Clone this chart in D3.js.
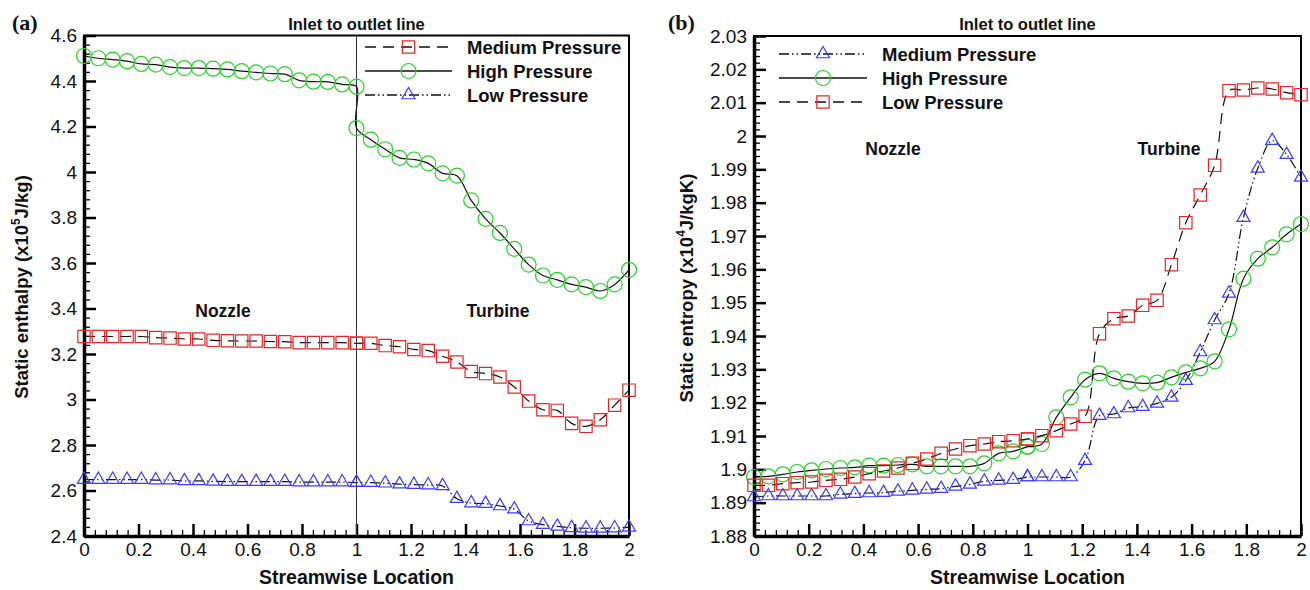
<!DOCTYPE html>
<html>
<head>
<meta charset="utf-8">
<script src="https://cdn.jsdelivr.net/npm/d3@7"></script>
<style>
  body { margin: 0; background: #fff; }
  text { font-family: "Liberation Sans", Arial, sans-serif; fill: #111; }
</style>
</head>
<body>
<svg id="chart" width="1310" height="590"></svg>
<script>
// streamwise sample locations (nozzle 0..1, turbine 1..2)
var locX = [0, 0.0526, 0.1053, 0.1579, 0.2105, 0.2632, 0.3158, 0.3684, 0.4211, 0.4737,
            0.5263, 0.5789, 0.6316, 0.6842, 0.7368, 0.7895, 0.8421, 0.8947, 0.9474, 1,
            1, 1.0526, 1.1053, 1.1579, 1.2105, 1.2632, 1.3158, 1.3684, 1.4211, 1.4737,
            1.5263, 1.5789, 1.6316, 1.6842, 1.7368, 1.7895, 1.8421, 1.8947, 1.9474, 2];

// (a) static enthalpy, x10^5 J/kg
var enthMedium = [3.277, 3.277, 3.277, 3.277, 3.277, 3.272, 3.270, 3.266, 3.266, 3.260,
                  3.258, 3.257, 3.257, 3.255, 3.254, 3.250, 3.250, 3.250, 3.250, 3.247,
                  3.247, 3.247, 3.237, 3.232, 3.220, 3.215, 3.190, 3.165, 3.123, 3.114,
                  3.099, 3.055, 2.993, 2.955, 2.952, 2.895, 2.882, 2.911, 2.975, 3.041];
var enthHigh = [4.510, 4.500, 4.494, 4.487, 4.475, 4.472, 4.461, 4.457, 4.457, 4.454,
                4.451, 4.443, 4.438, 4.433, 4.430, 4.403, 4.397, 4.396, 4.385, 4.375,
                4.193, 4.142, 4.100, 4.062, 4.055, 4.038, 3.994, 3.984, 3.875, 3.794,
                3.732, 3.662, 3.593, 3.545, 3.526, 3.506, 3.494, 3.477, 3.506, 3.570];
var enthLow = [2.648, 2.648, 2.648, 2.648, 2.648, 2.646, 2.646, 2.642, 2.642, 2.640,
               2.639, 2.639, 2.639, 2.639, 2.639, 2.637, 2.637, 2.637, 2.637, 2.635,
               2.635, 2.635, 2.632, 2.628, 2.626, 2.624, 2.620, 2.564, 2.545, 2.542,
               2.532, 2.518, 2.466, 2.450, 2.442, 2.436, 2.434, 2.434, 2.435, 2.438];

// (b) static entropy, x10^4 J/kgK
var entrMedium = [1.8917, 1.8920, 1.8920, 1.8920, 1.8920, 1.8920, 1.8925, 1.8927, 1.8929, 1.8930,
                  1.8934, 1.8937, 1.8940, 1.8942, 1.8949, 1.8955, 1.8964, 1.8967, 1.8969, 1.8977,
                  1.8977, 1.8977, 1.8977, 1.8977, 1.9026, 1.9161, 1.9166, 1.9184, 1.9188, 1.9198,
                  1.9216, 1.9266, 1.9352, 1.9448, 1.9528, 1.9755, 1.9903, 1.9986, 1.9944, 1.9876];
var entrHigh = [1.8977, 1.8979, 1.8985, 1.8992, 1.8997, 1.9001, 1.9004, 1.9006, 1.9011, 1.9011,
                1.9013, 1.9015, 1.9009, 1.9009, 1.9009, 1.9009, 1.9018, 1.9048, 1.9054, 1.9068,
                1.9068, 1.9076, 1.9156, 1.9216, 1.9269, 1.9288, 1.9273, 1.9263, 1.9258, 1.9260,
                1.9276, 1.9291, 1.9303, 1.9324, 1.9420, 1.9572, 1.9632, 1.9666, 1.9705, 1.9736];
var entrLow = [1.8952, 1.8952, 1.8957, 1.8960, 1.8962, 1.8967, 1.8970, 1.8977, 1.8987, 1.8995,
               1.9004, 1.9018, 1.9031, 1.9048, 1.9061, 1.9071, 1.9076, 1.9083, 1.9086, 1.9091,
               1.9091, 1.9101, 1.9116, 1.9136, 1.9159, 1.9407, 1.9452, 1.9460, 1.9492, 1.9507,
               1.9614, 1.9740, 1.9823, 1.9912, 2.0136, 2.0138, 2.0144, 2.0141, 2.0130, 2.0124];

var xTicks = [0, 0.2, 0.4, 0.6, 0.8, 1, 1.2, 1.4, 1.6, 1.8, 2];
var enthTicks = [2.4, 2.6, 2.8, 3, 3.2, 3.4, 3.6, 3.8, 4, 4.2, 4.4, 4.6];
var entrTicks = [1.88, 1.89, 1.9, 1.91, 1.92, 1.93, 1.94, 1.95, 1.96, 1.97, 1.98, 1.99, 2, 2.01, 2.02, 2.03];

var RED = "#e32626", GREEN = "#2bd12b", BLUE = "#3b3bff";
var styles = {
  square:   { color: RED,   dash: "11,7" },
  circle:   { color: GREEN, dash: null },
  triangle: { color: BLUE,  dash: "10,3,1.5,3,1.5,3" }
};

var svg = d3.select("#chart");

function marker(g, kind, cx, cy) {
  var st = styles[kind];
  if (kind === "circle") {
    g.append("circle").attr("cx", cx).attr("cy", cy).attr("r", 7.5)
      .attr("fill", "none").attr("stroke", st.color).attr("stroke-width", 1.2);
  } else {
    var sym = kind === "square" ? d3.symbol(d3.symbolSquare, 152) : d3.symbol(d3.symbolTriangle, 74);
    g.append("path").attr("d", sym).attr("transform", "translate(" + cx + "," + cy + ")")
      .attr("fill", "none").attr("stroke", st.color).attr("stroke-width", 1.2);
  }
}

function drawPanel(p) {
  var x = d3.scaleLinear().domain([0, 2]).range([p.left, p.right]);
  var y = d3.scaleLinear().domain(p.ydom).range([p.bottom, p.top]);
  var g = svg.append("g");

  // frame
  g.append("rect").attr("x", p.left).attr("y", p.top)
    .attr("width", p.right - p.left).attr("height", p.bottom - p.top)
    .attr("fill", "none").attr("stroke", "#000").attr("stroke-width", 2);

  // minor ticks
  g.append("g").attr("transform", "translate(0," + p.bottom + ")")
    .call(d3.axisBottom(x).tickValues(d3.range(0, 2.001, 0.04)).tickSize(-6).tickFormat(""))
    .call(function(a) { a.select(".domain").remove(); a.selectAll("line").attr("stroke-width", 1.3); });
  g.append("g").attr("transform", "translate(" + p.left + ",0)")
    .call(d3.axisLeft(y).tickValues(d3.range(p.ydom[0], p.ydom[1] + p.minor / 2, p.minor)).tickSize(-6).tickFormat(""))
    .call(function(a) { a.select(".domain").remove(); a.selectAll("line").attr("stroke-width", 1.3); });

  // major ticks
  var fmt = d3.format("~g");
  g.append("g").attr("transform", "translate(0," + p.bottom + ")")
    .call(d3.axisBottom(x).tickValues(xTicks).tickSize(-12).tickSizeOuter(0).tickPadding(7).tickFormat(fmt))
    .call(function(a) {
      a.select(".domain").attr("stroke-width", 3.5);
      a.selectAll("line").attr("stroke-width", 2.5);
      a.selectAll("text").attr("font-size", 19).attr("fill", "#111");
    });
  g.append("g").attr("transform", "translate(" + p.left + ",0)")
    .call(d3.axisLeft(y).tickValues(p.ticks).tickSize(-12).tickSizeOuter(0).tickPadding(7).tickFormat(fmt))
    .call(function(a) {
      a.select(".domain").attr("stroke-width", 3.5);
      a.selectAll("line").attr("stroke-width", 2.5);
      a.selectAll("text").attr("font-size", 19).attr("fill", "#111");
    });

  if (p.divider) {
    g.append("line").attr("x1", x(1)).attr("x2", x(1)).attr("y1", p.top).attr("y2", p.bottom)
      .attr("stroke", "#333").attr("stroke-width", 1);
  }

  // series
  var line = d3.line().x(function(d) { return x(d[0]); }).y(function(d) { return y(d[1]); })
    .curve(d3.curveCatmullRom.alpha(0.5));
  p.series.forEach(function(s) {
    var pts = locX.map(function(v, i) { return [v, s.values[i]]; });
    var st = styles[s.kind];
    g.append("path").attr("d", line(pts)).attr("fill", "none")
      .attr("stroke", "#111").attr("stroke-width", 1.2)
      .attr("stroke-dasharray", st.dash);
    var mg = g.append("g");
    pts.forEach(function(d) { marker(mg, s.kind, x(d[0]), y(d[1])); });
  });

  // legend
  p.series.forEach(function(s, i) {
    var ly = p.legY[i], st = styles[s.kind];
    g.append("line").attr("x1", p.legX[0]).attr("x2", p.legX[1]).attr("y1", ly).attr("y2", ly)
      .attr("stroke", "#111").attr("stroke-width", 1.3).attr("stroke-dasharray", st.dash);
    marker(g, s.kind, (p.legX[0] + p.legX[1]) / 2, ly);
    g.append("text").attr("x", p.legX[2]).attr("y", ly + 7).attr("font-size", 18.5)
      .attr("font-weight", "bold").text(s.name);
  });

  // labels
  var cx = (p.left + p.right) / 2;
  g.append("text").attr("x", cx).attr("y", 30).attr("text-anchor", "middle")
    .attr("font-size", 16.5).attr("font-weight", "bold").text("Inlet to outlet line");
  g.append("text").attr("x", cx).attr("y", 584).attr("text-anchor", "middle")
    .attr("font-size", 19.5).attr("font-weight", "bold").text("Streamwise Location");
  g.append("text").attr("x", p.panelX).attr("y", 30)
    .style("font-family", "'Liberation Serif', 'Times New Roman', serif")
    .attr("font-size", 22).attr("font-weight", "bold").text(p.panel);
  p.regions.forEach(function(r) {
    g.append("text").attr("x", r[1]).attr("y", p.regionY).attr("text-anchor", "middle")
      .attr("font-size", 17.5).attr("font-weight", "bold").text(r[0]);
  });

  var yt = g.append("text").attr("transform", "translate(" + p.ytitle[0] + "," + p.ytitle[1] + ") rotate(-90)")
    .attr("text-anchor", "middle").attr("font-size", 18.5).attr("font-weight", "bold");
  yt.append("tspan").text(p.ylabel[0]);
  yt.append("tspan").attr("dy", -8).attr("font-size", 12).text(p.ylabel[1]);
  yt.append("tspan").attr("dy", 8).text(p.ylabel[2]);
}

drawPanel({
  left: 84, right: 629, top: 35.5, bottom: 536,
  ydom: [2.4, 4.6], ticks: enthTicks, minor: 0.04, divider: true,
  series: [
    { name: "Medium Pressure", kind: "square", values: enthMedium },
    { name: "High Pressure", kind: "circle", values: enthHigh },
    { name: "Low Pressure", kind: "triangle", values: enthLow }
  ],
  legX: [365, 452, 467], legY: [47, 71, 95],
  regions: [["Nozzle", 223], ["Turbine", 498]], regionY: 317,
  panel: "(a)", panelX: 12,
  ytitle: [28, 287], ylabel: ["Static enthalpy (x10", "5", "J/kg)"]
});

drawPanel({
  left: 754, right: 1301, top: 36, bottom: 536,
  ydom: [1.88, 2.03], ticks: entrTicks, minor: 0.002, divider: false,
  series: [
    { name: "Medium Pressure", kind: "triangle", values: entrMedium },
    { name: "High Pressure", kind: "circle", values: entrHigh },
    { name: "Low Pressure", kind: "square", values: entrLow }
  ],
  legX: [779, 867, 882], legY: [54, 78, 102],
  regions: [["Nozzle", 893], ["Turbine", 1169]], regionY: 155,
  panel: "(b)", panelX: 668,
  ytitle: [693, 288], ylabel: ["Static entropy (x10", "4", "J/kgK)"]
});
</script>
</body>
</html>
